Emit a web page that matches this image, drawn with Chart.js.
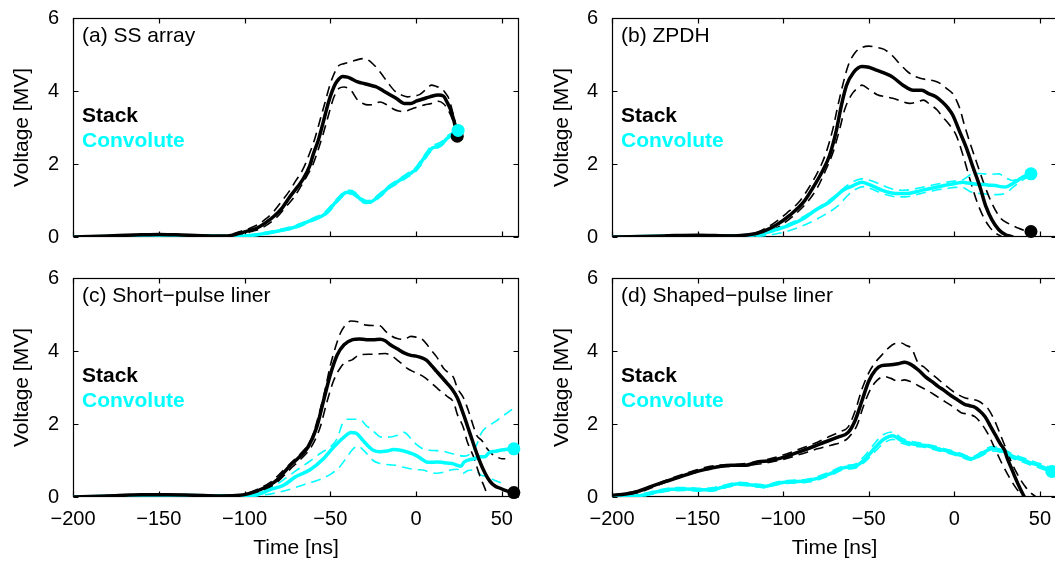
<!DOCTYPE html>
<html>
<head>
<meta charset="utf-8">
<script src="https://cdn.jsdelivr.net/npm/chart.js@4/dist/chart.umd.min.js"></script>
<style>
html, body { margin: 0; padding: 0; background: #fff; overflow: hidden; width: 1055px; height: 564px; }
canvas { position: absolute; }
.lbl { position: absolute; font-family: "Liberation Sans", Arial, sans-serif; font-size: 21px; line-height: 24px; white-space: nowrap; color: #000; }
.b { font-weight: bold; }
.cy { color: #00ffff; }
</style>
</head>
<body>
<canvas id="pa" width="527" height="255" style="left:0;top:0"></canvas>
<canvas id="pb" width="535" height="255" style="left:530px;top:0"></canvas>
<canvas id="pc" width="527" height="304" style="left:0;top:260px"></canvas>
<canvas id="pd" width="535" height="304" style="left:530px;top:260px"></canvas>

<div class="lbl" style="left:82px;top:23px">(a) SS array</div>
<div class="lbl b" style="left:82px;top:103px">Stack</div>
<div class="lbl b cy" style="left:82px;top:128px">Convolute</div>
<div class="lbl" style="left:621px;top:23px">(b) ZPDH</div>
<div class="lbl b" style="left:621px;top:103px">Stack</div>
<div class="lbl b cy" style="left:621px;top:128px">Convolute</div>
<div class="lbl" style="left:82px;top:283px">(c) Short&minus;pulse liner</div>
<div class="lbl b" style="left:82px;top:363px">Stack</div>
<div class="lbl b cy" style="left:82px;top:388px">Convolute</div>
<div class="lbl" style="left:621px;top:283px">(d) Shaped&minus;pulse liner</div>
<div class="lbl b" style="left:621px;top:363px">Stack</div>
<div class="lbl b cy" style="left:621px;top:388px">Convolute</div>

<script>
// axis ticks
var xTicks = [-200, -150, -100, -50, 0, 50];
var yTicks = [0, 2, 4, 6];

// (a) SS array  -- [time ns, voltage MV]
var aStack = [[-200,0],[-180,0.03],[-160,0.06],[-150,0.07],[-140,0.06],[-120,0.03],[-110,0.03],[-103,0.1],[-97,0.18],[-93,0.24],[-88,0.38],[-83,0.56],[-78,0.8],[-73.6,1.1],[-69,1.38],[-65.8,1.59],[-62,1.95],[-59.9,2.27],[-57,2.65],[-55,2.99],[-53,3.35],[-51,3.7],[-49,3.98],[-47,4.2],[-45,4.33],[-43,4.4],[-40,4.38],[-38,4.34],[-34,4.25],[-30,4.2],[-26,4.15],[-23,4.11],[-19,4.0],[-15,3.89],[-11,3.78],[-7,3.66],[-3,3.66],[0,3.72],[4,3.78],[8,3.84],[13,3.89],[16,3.86],[18,3.7],[20,3.5],[22,3.2],[24,2.76]];
var aStackHi = [[-200,0],[-150,0.07],[-110,0.04],[-104,0.13],[-98,0.22],[-93,0.32],[-88,0.48],[-83,0.7],[-78,1.0],[-74,1.25],[-70,1.55],[-66,1.85],[-62,2.3],[-59,2.7],[-56,3.2],[-53,3.7],[-50,4.2],[-47,4.55],[-45,4.7],[-42,4.75],[-38,4.8],[-34,4.86],[-30,4.89],[-26,4.78],[-21,4.52],[-16,4.2],[-12,3.98],[-8,3.88],[-5,3.84],[-2,3.86],[2,3.9],[6,4.05],[9,4.16],[12,4.12],[15,4.07],[17,3.95],[19,3.8],[22,3.3],[24,2.9]];
var aStackLo = [[-200,0],[-150,0.06],[-110,0.02],[-102,0.07],[-96,0.15],[-91,0.22],[-86,0.36],[-81,0.55],[-76,0.82],[-71,1.1],[-67,1.4],[-63,1.72],[-60,2.0],[-57,2.4],[-54,2.85],[-51,3.35],[-48,3.82],[-45,4.07],[-42,4.11],[-38,4.02],[-34,3.75],[-31,3.66],[-28,3.62],[-25,3.63],[-21,3.7],[-17,3.62],[-13,3.5],[-10,3.45],[-7,3.44],[-3,3.5],[1,3.57],[5,3.62],[9,3.66],[13,3.72],[16,3.65],[19,3.45],[22,3.12],[24,2.8]];
var aConv = [[-200,0],[-170,0.02],[-150,0.04],[-130,0.03],[-110,0.02],[-100,0.03],[-93,0.06],[-88,0.1],[-83,0.14],[-78,0.19],[-73,0.24],[-68,0.32],[-63,0.42],[-58,0.52],[-54,0.6],[-50,0.78],[-47,0.95],[-44,1.1],[-41,1.22],[-38,1.23],[-35,1.15],[-32,1.02],[-29,0.96],[-26,0.97],[-23,1.07],[-20,1.18],[-16,1.36],[-12,1.48],[-8,1.6],[-4,1.72],[0,1.86],[3,2.05],[6,2.25],[9,2.42],[12,2.48],[15,2.55],[18,2.7],[21,2.82],[24,2.92]];
var aConvHi = [[-200,0],[-150,0.05],[-110,0.03],[-100,0.05],[-93,0.08],[-88,0.13],[-83,0.17],[-78,0.22],[-73,0.28],[-68,0.36],[-63,0.46],[-58,0.56],[-54,0.65],[-50,0.84],[-47,1.0],[-44,1.15],[-41,1.27],[-38,1.28],[-35,1.2],[-32,1.07],[-29,1.0],[-26,1.01],[-23,1.12],[-20,1.24],[-16,1.4],[-12,1.53],[-8,1.65],[-4,1.78],[0,1.92],[3,2.12],[6,2.32],[9,2.5],[12,2.55],[15,2.62],[18,2.76],[21,2.86],[24,2.95]];
var aConvLo = [[-200,0],[-150,0.03],[-110,0.01],[-100,0.02],[-93,0.04],[-88,0.07],[-83,0.11],[-78,0.16],[-73,0.21],[-68,0.28],[-63,0.38],[-58,0.48],[-54,0.56],[-50,0.72],[-47,0.9],[-44,1.05],[-41,1.17],[-38,1.18],[-35,1.1],[-32,0.97],[-29,0.92],[-26,0.93],[-23,1.02],[-20,1.13],[-16,1.31],[-12,1.43],[-8,1.55],[-4,1.67],[0,1.8],[3,1.98],[6,2.18],[9,2.36],[12,2.43],[15,2.5],[18,2.66],[21,2.78],[24,2.9]];
var aStackEnd = [24, 2.76];
var aConvEnd = [24.5, 2.92];

// (b) ZPDH
var bStack = [[-200,0],[-170,0.03],[-150,0.05],[-130,0.03],[-120,0.06],[-112,0.15],[-104,0.33],[-96,0.6],[-88,0.96],[-83,1.32],[-77,1.81],[-73,2.22],[-69,2.9],[-66,3.6],[-63,4.15],[-59,4.5],[-54,4.67],[-50,4.65],[-46,4.58],[-42,4.51],[-36,4.38],[-30,4.16],[-24,4.02],[-19,4.02],[-15,3.93],[-11,3.85],[-7,3.7],[-4,3.55],[-1,3.35],[3,2.9],[7,2.45],[11,1.9],[15,1.37],[18.5,0.83],[22,0.47],[26,0.2],[30,0.06],[34,0],[38,-0.2]];
var bStackHi = [[-200,0],[-150,0.05],[-120,0.07],[-113,0.17],[-106,0.36],[-98,0.65],[-90,1.0],[-85,1.35],[-79,1.85],[-75,2.3],[-71,2.95],[-68,3.6],[-65,4.2],[-62,4.7],[-58,5.05],[-54,5.19],[-50,5.23],[-46,5.2],[-41,5.14],[-36,4.96],[-32,4.75],[-28,4.56],[-24,4.42],[-20,4.35],[-16,4.31],[-12,4.28],[-8,4.2],[-4,4.05],[-1,3.93],[3,3.55],[6,3.05],[9,2.6],[13,2.05],[17,1.5],[22,0.92],[27,0.52],[32,0.36],[37,0.25],[41,0.18],[45,0.15]];
var bStackLo = [[-200,0],[-150,0.04],[-120,0.04],[-110,0.1],[-102,0.3],[-94,0.58],[-86,0.95],[-80,1.35],[-75,1.85],[-71,2.3],[-67,2.95],[-64,3.5],[-60,3.9],[-56,4.1],[-54,4.16],[-50,4.05],[-45,3.9],[-40,3.84],[-36,3.8],[-31,3.72],[-26,3.66],[-22,3.7],[-18,3.75],[-14,3.62],[-10,3.48],[-7,3.3],[-3,3.08],[1,2.8],[5,2.25],[9,1.6],[13,1.0],[17,0.55],[21,0.25],[25,0.08],[28,0],[31,-0.2]];
var bConv = [[-200,0],[-170,0.02],[-150,0.03],[-130,0.02],[-120,0.04],[-112,0.09],[-104,0.2],[-96,0.33],[-88,0.51],[-81,0.74],[-73,0.96],[-65,1.28],[-59,1.41],[-54,1.5],[-50,1.44],[-46,1.36],[-42,1.28],[-38,1.22],[-34,1.19],[-30,1.19],[-26,1.2],[-22,1.24],[-18,1.29],[-14,1.33],[-10,1.37],[-6,1.41],[-3,1.44],[1,1.47],[5,1.5],[8,1.48],[11,1.46],[14,1.44],[17,1.44],[20,1.42],[24,1.41],[27,1.38],[30,1.37],[34,1.46],[37,1.55],[40,1.64],[43,1.7],[45,1.73]];
var bConvHi = [[-200,0],[-150,0.04],[-120,0.06],[-110,0.15],[-102,0.27],[-94,0.42],[-86,0.62],[-78,0.85],[-70,1.12],[-63,1.4],[-57,1.56],[-53,1.6],[-49,1.55],[-44,1.46],[-40,1.38],[-35,1.3],[-30,1.28],[-25,1.3],[-20,1.35],[-15,1.4],[-10,1.45],[-5,1.5],[0,1.53],[5,1.57],[10,1.72],[14,1.74],[18,1.73],[22,1.72],[26,1.73],[30,1.62],[34,1.55],[38,1.6],[42,1.68],[45,1.73]];
var bConvLo = [[-200,0],[-150,0.02],[-115,0.02],[-106,0.07],[-98,0.15],[-90,0.28],[-82,0.45],[-75,0.63],[-68,0.85],[-62,1.15],[-57,1.32],[-53,1.38],[-49,1.33],[-44,1.23],[-39,1.15],[-34,1.1],[-29,1.1],[-24,1.13],[-19,1.2],[-14,1.25],[-9,1.3],[-4,1.33],[0,1.36],[5,1.35],[10,1.23],[15,1.19],[20,1.17],[25,1.16],[30,1.2],[34,1.35],[38,1.5],[42,1.62],[45,1.7]];
var bStackEnd = [44.8, 0.15];
var bConvEnd = [44.8, 1.73];

// (c) Short-pulse liner
var cStack = [[-200,0],[-180,0.03],[-160,0.06],[-145,0.06],[-130,0.05],[-115,0.03],[-105,0.04],[-97,0.1],[-89,0.24],[-81,0.47],[-74,0.83],[-68,1.1],[-63,1.37],[-58,1.9],[-54,2.63],[-50,3.35],[-46,3.89],[-42,4.17],[-37,4.31],[-33,4.33],[-29,4.31],[-25,4.31],[-21,4.32],[-18,4.28],[-15,4.17],[-11,4.06],[-7,3.95],[-3,3.88],[0,3.86],[3,3.82],[6,3.75],[9,3.6],[12,3.44],[15,3.28],[18,3.12],[21,2.95],[24,2.72],[27.6,2.27],[31.5,1.73],[35.4,1.19],[39.3,0.74],[43.2,0.42],[46,0.3],[49,0.24],[52,0.18],[55,0.14],[57,0.12]];
var cStackHi = [[-200,0],[-160,0.07],[-130,0.05],[-108,0.04],[-100,0.08],[-93,0.2],[-85,0.4],[-78,0.7],[-72,0.98],[-66,1.25],[-61,1.6],[-57,2.2],[-53,2.95],[-50,3.6],[-47,4.1],[-44,4.5],[-41,4.72],[-38,4.82],[-34,4.8],[-29,4.71],[-25,4.7],[-21,4.69],[-18,4.55],[-15,4.43],[-11,4.34],[-7,4.32],[-3,4.4],[0,4.38],[3,4.34],[6,4.2],[8,4.07],[12,3.84],[16,3.53],[19,3.4],[22,3.26],[24,2.99],[27.6,2.72],[30.6,2.35],[33,2.0],[35.4,1.68],[38.3,1.55],[41,1.35],[44,1.19],[47,1.1],[50,1.05],[52,1.05]];
var cStackLo = [[-200,0],[-160,0.05],[-130,0.04],[-105,0.02],[-96,0.06],[-88,0.2],[-80,0.45],[-73,0.78],[-67,1.05],[-61,1.38],[-56,1.9],[-52,2.6],[-48,3.2],[-44,3.55],[-41,3.7],[-37.6,3.75],[-32.7,3.9],[-27,3.91],[-22,3.92],[-18,3.93],[-14,3.86],[-11,3.75],[-8,3.64],[-5.4,3.53],[-1,3.42],[4.3,3.3],[9,3.12],[13,2.95],[18,2.76],[22,2.58],[24,2.27],[27.6,1.9],[29.6,1.55],[33.5,1.1],[37,0.6],[40,0.25],[42,0],[44,-0.2]];
var cConv = [[-200,0],[-170,0.03],[-150,0.05],[-130,0.04],[-110,0.03],[-100,0.03],[-93,0.06],[-85,0.2],[-77,0.33],[-70,0.56],[-62,0.74],[-54,1.05],[-48,1.37],[-42,1.64],[-38,1.77],[-35,1.75],[-31,1.55],[-28,1.4],[-25,1.28],[-21,1.24],[-17,1.26],[-13,1.3],[-9,1.28],[-5,1.23],[0,1.14],[3,1.05],[6,0.96],[9,0.95],[12,0.96],[15,0.95],[18,0.93],[21,0.92],[24,0.87],[26,0.84],[28,0.96],[31,1.02],[34,1.05],[37,1.1],[40,1.1],[43,1.23],[46,1.25],[49,1.28],[52,1.3],[55,1.32],[57,1.32]];
var cConvHi = [[-200,0],[-150,0.06],[-100,0.04],[-92,0.1],[-85,0.25],[-78,0.45],[-70,0.72],[-62,0.98],[-55,1.22],[-50,1.37],[-46,1.6],[-43,2.0],[-40,2.13],[-36,2.13],[-32,2.1],[-29,1.95],[-26,1.86],[-23,1.72],[-20,1.64],[-17,1.64],[-14,1.65],[-10,1.7],[-7,1.77],[-3,1.6],[0,1.45],[4,1.32],[8,1.28],[12,1.27],[16,1.25],[20,1.2],[24,1.15],[28,1.12],[32,1.2],[35,1.4],[38,1.75],[41,1.91],[44,2.0],[47,2.09],[50,2.2],[53,2.3],[56,2.4]];
var cConvLo = [[-200,0],[-150,0.03],[-100,0.02],[-90,0.05],[-80,0.13],[-73,0.22],[-66,0.33],[-60,0.42],[-55,0.5],[-50,0.62],[-45,0.8],[-41,1.05],[-37,1.3],[-34,1.4],[-31,1.3],[-28,1.15],[-25,1.0],[-22,0.93],[-19,0.9],[-15,0.88],[-12,0.87],[-8,0.82],[-4,0.78],[0,0.75],[4,0.74],[8,0.68],[12,0.65],[16,0.68],[20,0.74],[24,0.76],[27,0.64],[30,0.72],[34,0.74],[38,0.6],[42,0.55],[46,0.45],[50,0.38]];
var cStackEnd = [57, 0.12];
var cConvEnd = [57, 1.32];

// (d) Shaped-pulse liner
var dStack = [[-200,0.05],[-192,0.08],[-185,0.15],[-177,0.29],[-169,0.42],[-161,0.54],[-154,0.65],[-146,0.75],[-138,0.83],[-130,0.87],[-122,0.87],[-115,0.96],[-107,1.0],[-99,1.1],[-91,1.23],[-83,1.37],[-76,1.5],[-68,1.64],[-62,1.77],[-58,2.09],[-54,2.63],[-50,3.17],[-46,3.48],[-42.5,3.6],[-37,3.62],[-33,3.65],[-29,3.69],[-25,3.62],[-21,3.48],[-17,3.3],[-13,3.16],[-9.5,3.03],[-6,2.92],[-2,2.78],[2,2.66],[6,2.54],[9,2.5],[12,2.46],[15,2.35],[18,2.2],[21,1.95],[24,1.7],[27,1.45],[29.4,1.28],[31,1.05],[33,0.83],[35,0.6],[37,0.38],[39,0.18],[41,0],[43,-0.2]];
var dStackHi = [[-200,0.05],[-185,0.17],[-170,0.43],[-155,0.68],[-140,0.86],[-125,0.9],[-110,1.02],[-100,1.15],[-90,1.32],[-80,1.5],[-72,1.68],[-66,1.8],[-62,1.92],[-58,2.35],[-54,2.95],[-50,3.4],[-46,3.7],[-42.5,3.88],[-38.7,4.07],[-35,4.2],[-31,4.22],[-28,4.15],[-25,4.07],[-21,3.66],[-18,3.57],[-14,3.4],[-10,3.25],[-5,3.05],[0,2.87],[6,2.72],[10,2.68],[14,2.63],[18,2.5],[20,2.4],[23.6,2.09],[27,1.7],[30,1.35],[33,1.0],[36,0.7],[39,0.45],[42,0.25],[45,0.1],[48,0]];
var dStackLo = [[-200,0.04],[-185,0.12],[-170,0.38],[-155,0.62],[-140,0.8],[-125,0.85],[-110,0.93],[-100,1.03],[-90,1.17],[-80,1.32],[-72,1.42],[-66,1.5],[-62,1.62],[-57,1.95],[-53,2.5],[-49,2.95],[-45,3.2],[-41,3.3],[-37,3.25],[-33,3.17],[-29,3.21],[-25,3.15],[-21,3.05],[-15,2.9],[-10,2.75],[-5,2.6],[0,2.45],[4,2.31],[8,2.27],[12,2.2],[16,2.0],[20,1.7],[24,1.3],[28,0.9],[32,0.55],[36,0.25],[40,0],[42,-0.2]];
var dConv = [[-200,0.02],[-188,0.02],[-181,0.06],[-173,0.15],[-165,0.21],[-157,0.22],[-150,0.2],[-142,0.2],[-134,0.29],[-126,0.36],[-118,0.33],[-111,0.29],[-103,0.38],[-95,0.42],[-87,0.44],[-80,0.51],[-72,0.65],[-64,0.81],[-58,0.84],[-52,1.05],[-46,1.37],[-41,1.59],[-36,1.68],[-31,1.55],[-25,1.46],[-17,1.41],[-9.5,1.32],[-2,1.23],[4,1.14],[10,1.05],[16,1.19],[22,1.32],[27.5,1.28],[33,1.14],[37,1.06],[41,1.0],[45,0.93],[49,0.87],[53,0.8],[57,0.74]];
var dConvHi = [[-200,0.03],[-188,0.04],[-181,0.1],[-173,0.19],[-165,0.25],[-157,0.26],[-150,0.24],[-142,0.25],[-134,0.33],[-126,0.4],[-118,0.37],[-111,0.33],[-103,0.42],[-95,0.46],[-87,0.48],[-80,0.56],[-72,0.7],[-64,0.86],[-58,0.9],[-52,1.15],[-46,1.5],[-41,1.72],[-36,1.78],[-31,1.62],[-25,1.52],[-17,1.46],[-9.5,1.37],[-2,1.28],[4,1.19],[10,1.1],[16,1.24],[22,1.38],[27.5,1.34],[33,1.2],[37,1.12],[41,1.06],[45,0.99],[49,0.93],[53,0.86],[57,0.8]];
var dConvLo = [[-200,0.01],[-188,0.01],[-181,0.03],[-173,0.11],[-165,0.17],[-157,0.18],[-150,0.16],[-142,0.16],[-134,0.25],[-126,0.32],[-118,0.29],[-111,0.25],[-103,0.34],[-95,0.38],[-87,0.4],[-80,0.46],[-72,0.6],[-64,0.76],[-58,0.79],[-52,0.97],[-46,1.26],[-41,1.48],[-36,1.58],[-31,1.48],[-25,1.4],[-17,1.36],[-9.5,1.27],[-2,1.18],[4,1.09],[10,1.0],[16,1.13],[22,1.26],[27.5,1.22],[33,1.08],[37,1.0],[41,0.94],[45,0.87],[49,0.81],[53,0.74],[57,0.68]];
var dConvEnd = [57, 0.7];

var black = '#000000';
var cyan = '#00ffff';
var fontFam = '"Liberation Sans", Arial, sans-serif';

Chart.defaults.font.family = fontFam;
Chart.defaults.color = '#000';

function line(pts, color, width, dash, order) {
	return {
		data: pts.map(function(p) { return {x: p[0], y: p[1]}; }),
		borderColor: color,
		borderWidth: width,
		borderDash: dash,
		pointRadius: 0,
		cubicInterpolationMode: 'monotone',
		fill: false,
		order: order
	};
}

function dot(p, color, order) {
	return {
		data: [{x: p[0], y: p[1]}],
		showLine: false,
		pointRadius: 6.5,
		pointBackgroundColor: color,
		pointBorderColor: color,
		pointBorderWidth: 0,
		clip: false,
		order: order
	};
}

// box with inward ticks on all four sides (matlab style)
var framePlugin = {
	id: 'frame',
	beforeDatasetsDraw: function(chart) {
		var ctx = chart.ctx, a = chart.chartArea;
		var xs = chart.scales.x, ys = chart.scales.y;
		var L = Math.round(a.left) + 0.5, R = Math.round(a.right) - 0.5;
		var T = Math.round(a.top) + 0.5, B = Math.round(a.bottom) - 0.5;
		ctx.save();
		ctx.strokeStyle = '#000';
		ctx.lineWidth = 1.2;
		ctx.strokeRect(L, T, R - L, B - T);
		ctx.beginPath();
		xTicks.forEach(function(v) {
			var px = Math.round(xs.getPixelForValue(v)) + 0.5;
			ctx.moveTo(px, B); ctx.lineTo(px, B - 5);
			ctx.moveTo(px, T); ctx.lineTo(px, T + 5);
		});
		yTicks.forEach(function(v) {
			var py = Math.round(ys.getPixelForValue(v)) + 0.5;
			ctx.moveTo(L, py); ctx.lineTo(L + 5, py);
			ctx.moveTo(R, py); ctx.lineTo(R - 5, py);
		});
		ctx.stroke();
		ctx.restore();
	}
};

function makeChart(id, sets, opt) {
	return new Chart(document.getElementById(id), {
		type: 'line',
		data: { datasets: sets },
		options: {
			responsive: false,
			animation: false,
			events: [],
			layout: { padding: { top: 15, right: opt.padRight, left: 0, bottom: 0 } },
			plugins: { legend: { display: false }, tooltip: { enabled: false } },
			scales: {
				x: {
					type: 'linear',
					min: -200,
					max: 60,
					afterBuildTicks: function(s) { s.ticks = xTicks.map(function(v) { return {value: v}; }); },
					afterFit: function(s) { s.height = opt.xH; },
					grid: { display: false },
					border: { display: false },
					ticks: {
						display: opt.xLabels,
						autoSkip: false,
						maxRotation: 0,
						padding: 2,
						font: { size: 20 },
						color: '#000',
						callback: function(v) { return v < 0 ? '\u2212' + (-v) : String(v); }
					},
					title: {
						display: opt.xLabels,
						text: 'Time [ns]',
						font: { size: 21 },
						color: '#000',
						padding: { top: 0, bottom: 3 }
					}
				},
				y: {
					min: 0,
					max: 6,
					afterBuildTicks: function(s) { s.ticks = yTicks.map(function(v) { return {value: v}; }); },
					afterFit: function(s) { s.width = opt.yW; },
					grid: { display: false },
					border: { display: false },
					ticks: { padding: 6, font: { size: 20 }, color: '#000' },
					title: {
						display: true,
						text: 'Voltage [MV]',
						font: { size: 21 },
						color: '#000',
						padding: { top: opt.yTitlePad, bottom: 0 }
					}
				}
			}
		},
		plugins: [framePlugin]
	});
}

function panelSets(st, stHi, stLo, cv, cvHi, cvLo, stEnd, cvEnd) {
	var s = [
		line(cvHi, cyan, 1.6, [10, 6], 8),
		line(cvLo, cyan, 1.6, [10, 6], 7),
		line(stHi, black, 1.6, [10, 6], 6),
		line(stLo, black, 1.6, [10, 6], 5),
		line(cv, cyan, 3.5, [], 4),
		line(st, black, 3.5, [], 3)
	];
	if (stEnd) s.push(dot(stEnd, black, 2));
	if (cvEnd) s.push(dot(cvEnd, cyan, 1));
	return s;
}

makeChart('pa', panelSets(aStack, aStackHi, aStackLo, aConv, aConvHi, aConvLo, aStackEnd, aConvEnd),
	{ padRight: 8, xH: 18, yW: 73, xLabels: false, yTitlePad: 9.5 });
makeChart('pb', panelSets(bStack, bStackHi, bStackLo, bConv, bConvHi, bConvLo, bStackEnd, bConvEnd),
	{ padRight: 8, xH: 18, yW: 82, xLabels: false, yTitlePad: 20 });
makeChart('pc', panelSets(cStack, cStackHi, cStackLo, cConv, cConvHi, cConvLo, cStackEnd, cConvEnd),
	{ padRight: 8, xH: 67, yW: 73, xLabels: true, yTitlePad: 9.5 });
makeChart('pd', panelSets(dStack, dStackHi, dStackLo, dConv, dConvHi, dConvLo, null, dConvEnd),
	{ padRight: 8, xH: 67, yW: 82, xLabels: true, yTitlePad: 20 });
</script>
</body>
</html>
